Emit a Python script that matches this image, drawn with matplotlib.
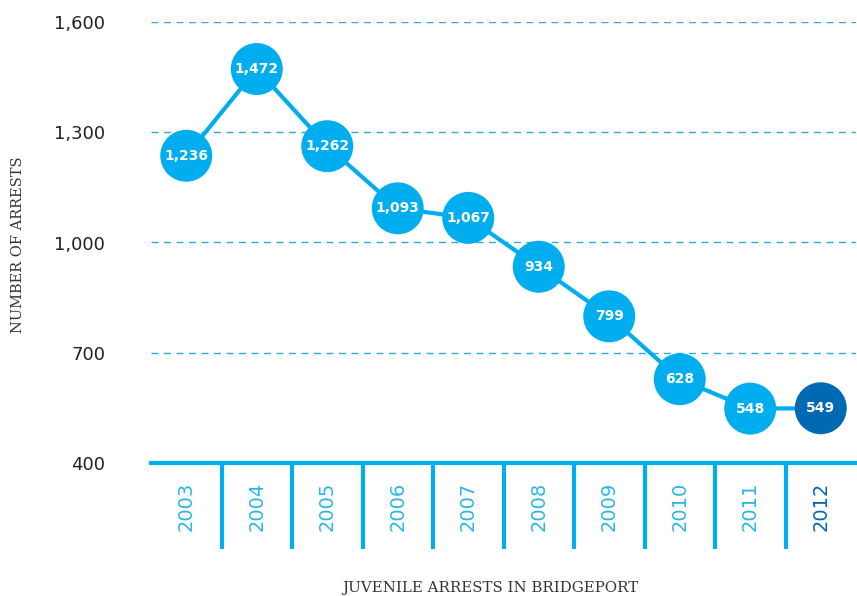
import numpy as np
import matplotlib
matplotlib.use('Agg')
import matplotlib.pyplot as plt

# dati
years = ['2003', '2004', '2005', '2006', '2007', '2008', '2009', '2010', '2011', '2012']
arrests = [1236, 1472, 1262, 1093, 1067, 934, 799, 628, 548, 549]
y_ticks = [400, 700, 1000, 1300, 1600]
y_tick_labels = ['400', '700', '1,000', '1,300', '1,600']

light = '#00AEEF'
dark = '#0069B4'
grid_col = '#29ABE2'

fig = plt.figure(figsize=(8.57, 5.96), dpi=100)
ax = fig.add_axes([151/857, 133/596, 705/857, 441/596])

x = np.arange(len(years)) + 0.5
ax.plot(x, arrests, '-', color=light, linewidth=3, zorder=2)
cols = [light]*(len(years)-1) + [dark]
ax.scatter(x, arrests, s=1400, color=cols, zorder=3, linewidths=0)
for xi, v, c in zip(x, arrests, cols):
    ax.text(xi, v, f'{v:,}', ha='center', va='center', color='white',
            fontsize=10, fontweight='bold', zorder=4)

ax.set_xlim(0, len(years))
ax.set_ylim(400, 1600)
for yv in y_ticks[1:]:
    ax.axhline(yv, color=grid_col, linewidth=1, linestyle=(0, (5, 4)), zorder=1)

ax.set_yticks(y_ticks)
ax.set_yticklabels(y_tick_labels, fontsize=13, color='#222222')
ax.tick_params(axis='y', length=0, pad=33)
ax.set_xticks([])
for s in ['top', 'right', 'left']:
    ax.spines[s].set_visible(False)
ax.spines['bottom'].set_color(light)
ax.spines['bottom'].set_linewidth(3)

# separatori colonne anni
ybot = 400 - 86/0.3675
ax.vlines(np.arange(1, len(years)), ybot, 400, color=light, linewidth=3, clip_on=False)
for i, yr in enumerate(years):
    ax.text(x[i], 400 - 43/0.3675, yr, rotation=90, ha='center', va='center',
            fontsize=14, color=dark if i == len(years)-1 else '#29B6E8', clip_on=False)

fig.text(18/857, 1 - 245/596, 'NUMBER OF ARRESTS', rotation=90, ha='center', va='center',
         fontsize=10.5, family='DejaVu Serif', color='#333333')
fig.text(490/857, 1 - 588/596, 'JUVENILE ARRESTS IN BRIDGEPORT', ha='center', va='center',
         fontsize=10.8, family='DejaVu Serif', color='#333333')

plt.savefig('out.png', dpi=100)
